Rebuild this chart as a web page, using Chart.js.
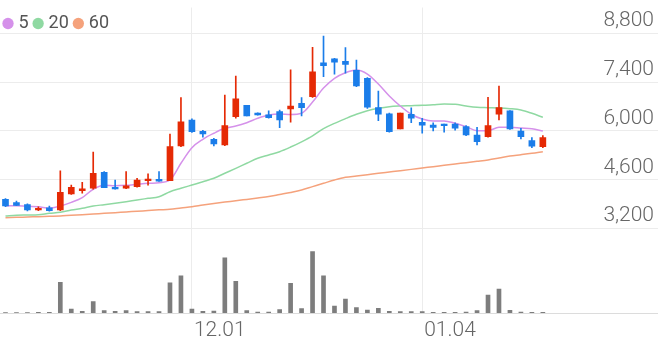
<!DOCTYPE html>
<html>
<head>
<meta charset="utf-8">
<script src="https://cdn.jsdelivr.net/npm/chart.js@4"></script>
<style>
html,body{margin:0;padding:0;background:#fff;}
#wrap{width:658px;height:342px;position:relative;}
</style>
</head>
<body>
<div id="wrap"><canvas id="c"></canvas></div>
<script>
// ---- data ----
const categories = ['11.06','11.09','11.10','11.11','11.12','11.13','11.16','11.17','11.18','11.19',
  '11.20','11.23','11.24','11.25','11.26','11.27','11.30','12.01','12.02','12.03',
  '12.04','12.07','12.08','12.09','12.10','12.11','12.14','12.15','12.16','12.17',
  '12.18','12.21','12.22','12.23','12.24','12.28','12.29','12.30','01.04','01.05',
  '01.06','01.07','01.08','01.11','01.12','01.13','01.14','01.15','01.18','01.19'];
const futureSlots = 10;
const tickLabels = ['12.01','01.04'];
const priceTicks = [3200,4600,6000,7400,8800];

const open  = [4040,3945,3890,3735,3800,3735,4195,4290,4358,4815,4385,4358,4405,4575,4615,4575,5570,6315,5990,5762,
  5600,6410,6735,6510,6460,6555,6630,6795,6980,7950,8070,7995,7740,7510,6668,6495,6060,6480,6250,6170,
  6200,6200,6125,5885,5837,6480,6575,6000,5722,5550];
const high  = [4060,3990,3910,3830,3850,4860,4450,4530,5398,4840,4596,4835,4640,4770,4835,5915,6955,6350,6020,5790,
  7032,7575,6735,6520,6575,6600,7750,6955,8400,8720,8085,8390,8035,7528,7147,6510,6510,6665,6365,6235,
  6200,6235,6152,6107,6966,7290,6585,6078,5808,5865];
const low   = [3830,3860,3710,3715,3705,3715,4185,4215,4330,4375,4330,4345,4390,4450,4555,4575,5550,5960,5820,5570,
  5580,6365,6430,6450,6365,6095,6250,6430,6965,7555,7625,7655,7270,6650,6295,5963,6060,6235,5935,6000,
  5963,6020,5865,5600,5820,6315,6045,5770,5520,5520];
const close = [3850,3870,3735,3785,3715,4245,4385,4345,4788,4375,4338,4430,4596,4625,4560,5550,6265,5980,5915,5627,
  6155,6925,6430,6460,6380,6315,6715,6670,7695,7870,7970,7910,7290,6680,6480,5980,6510,6365,6170,6105,
  6150,6078,5885,5693,6152,6668,6057,5837,5562,5808];
const volume = [30,30,30,40,40,1840,240,100,680,140,100,140,80,80,80,1800,2220,240,100,120,
  3300,1900,140,60,60,200,1780,260,3680,2220,420,840,320,180,280,100,80,80,80,40,
  40,40,60,140,1080,1440,160,60,40,40];
const ma5  = [3850,3860,3840,3830,3785,3850,3955,4090,4330,4445,4432,4445,4473,4500,4518,4596,5075,5520,5762,5935,
  6078,6143,6238,6364,6458,6487,6475,6510,6830,7230,7510,7670,7748,7633,7347,7003,6716,6480,6344,6286,
  6286,6220,6125,6010,6010,6107,6107,6086,6066,6000];
const ma20 = [3565,3584,3592,3601,3641,3670,3735,3785,3850,3888,3928,3974,4023,4070,4117,4260,4357,4452,4547,4645,
  4788,4930,5075,5218,5312,5407,5540,5690,5860,6068,6220,6353,6478,6582,6650,6697,6716,6725,6735,6754,
  6774,6765,6716,6678,6668,6660,6640,6602,6507,6393];
const ma60 = [3515,3525,3535,3545,3555,3565,3585,3600,3620,3640,3660,3680,3700,3720,3740,3755,3795,3830,3880,3925,
  3965,4000,4040,4080,4120,4180,4240,4310,4405,4500,4596,4673,4710,4748,4788,4825,4862,4900,4940,4977,
  5017,5055,5092,5130,5170,5225,5283,5320,5360,5407];
const maNames = ['5','20','60'];

// ---- styles ----
const UP = '#e52a05', DOWN = '#1b7de9';
const MA_COLORS = ['#d591ea', '#8fd9a2', '#f5a27c'];
const labels = categories.concat(Array(futureSlots).fill(''));
const candleColor = ctx => (close[ctx.dataIndex] >= open[ctx.dataIndex] ? UP : DOWN);
const tickFont = {family: 'Roboto', size: 21, weight: 300};

const maSets = [ma5, ma20, ma60].map((d, k) => ({
  type: 'line', label: maNames[k], data: d, yAxisID: 'y', order: 1,
  borderColor: MA_COLORS[k], backgroundColor: MA_COLORS[k], borderWidth: 1.5,
  pointRadius: 0, pointStyle: 'circle', cubicInterpolationMode: 'monotone'
}));

// legend reserves almost no layout height (it overlays the plot), but is drawn at full height
const legendOverlay = {
  id: 'legendOverlay',
  beforeDraw(chart) {
    const lg = chart.legend;
    if (lg) { lg.left = -1.5; lg.height = 30; lg.bottom = lg.top + 30; }
  }
};

new Chart(document.getElementById('c'), {
  type: 'bar',
  data: {
    labels: labels,
    datasets: [
      {label: 'wick', data: low.map((l, i) => [l, high[i]]), backgroundColor: candleColor,
       barThickness: 1, grouped: false, order: 0, yAxisID: 'y', borderWidth: 0},
      {label: 'body', data: open.map((o, i) => [o, close[i]]), backgroundColor: candleColor,
       barThickness: 6, grouped: false, order: 0, yAxisID: 'y', borderWidth: 0},
      {label: 'volume', data: volume, backgroundColor: '#7d7d7d',
       barThickness: 4, grouped: false, order: 2, yAxisID: 'yv', borderWidth: 0},
      ...maSets
    ]
  },
  plugins: [legendOverlay],
  options: {
    responsive: true, maintainAspectRatio: false, animation: false,
    layout: {padding: {top: 6.5, left: 0, right: 0, bottom: 0}},
    plugins: {
      tooltip: {enabled: false},
      legend: {
        position: 'top', align: 'start', maxHeight: 1,
        labels: {
          usePointStyle: true, boxWidth: 3, boxHeight: 8, padding: 8,
          color: '#555', font: {family: 'Roboto', size: 18},
          generateLabels: chart => Chart.defaults.plugins.legend.labels.generateLabels(chart)
            .map(it => Object.assign(it, {lineWidth: 0, fillStyle: it.strokeStyle})),
          filter: item => maNames.includes(item.text)
        }
      }
    },
    scales: {
      x: {
        offset: true,
        grid: {offset: false, drawTicks: false,
               color: c => (c.tick && c.tick.label ? '#ececec' : 'rgba(0,0,0,0)')},
        border: {display: true, color: '#dcdcdc'},
        ticks: {autoSkip: false, maxRotation: 0, minRotation: 0, align: 'start', labelOffset: 2,
                padding: 5, color: '#666', font: tickFont,
                callback: v => (tickLabels.includes(labels[v]) ? labels[v] : '')},
        afterFit: s => { s.height = 29; s.paddingLeft = 0; s.paddingRight = 0; }
      },
      y: {
        position: 'right', min: 784, max: 9539,
        afterBuildTicks: s => { s.ticks = priceTicks.map(v => ({value: v})); },
        grid: {color: '#ececec', drawTicks: false},
        border: {display: false},
        ticks: {mirror: true, padding: -4, labelOffset: -12.5, color: '#666', font: tickFont,
                callback: v => v.toLocaleString('en-US')},
        afterFit: s => { s.width = 0; s.paddingTop = 0; s.paddingBottom = 0; }
      },
      yv: {display: false, min: 0, max: 18300}
    }
  }
});
</script>
</body>
</html>
